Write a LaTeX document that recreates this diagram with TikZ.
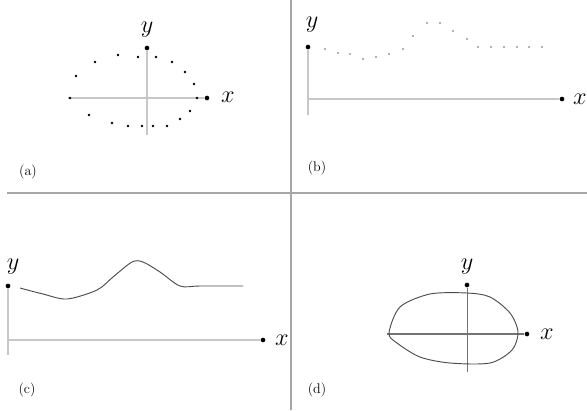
\documentclass[tikz,border=0pt]{standalone}
\usepackage{amsmath}
\usetikzlibrary{positioning}
\begin{document}
\begin{tikzpicture}[x=0.03cm,y=-0.03cm]
	 \tikzstyle{axis}=[draw,line width=1.6pt,black!22]
	 \tikzstyle{frame}=[draw,line width=1pt,black!35]
	 \tikzstyle{tip}=[circle,fill=black,minimum size=4pt,inner sep=0pt]
	 \tikzstyle{pt}=[circle,fill=black,minimum size=2.2pt,inner sep=0pt]
	 \tikzstyle{lab}=[font=\huge,inner sep=0pt]
	 \tikzstyle{tag}=[font=\large,inner sep=0pt]
	 \tikzstyle{curve}=[draw,line width=0.8pt,black!70]
	 \useasboundingbox (0,0) rectangle (587,410);

	 % dividing lines
	 \coordinate (vt) at (291,0);
	 \coordinate (vb) at (291,410);
	 \coordinate (hl) at (7,193);
	 \coordinate (hr) at (587,193);
	 \draw[frame] (vt) -- (vb);
	 \draw[frame] (hl) -- (hr);

	 % (a)
	 \coordinate (a0) at (68,98);
	 \coordinate (a1) at (147,135);
	 \node[tip] (ax) at (207,98) {};
	 \node[tip] (ay) at (147,48) {};
	 \draw[axis] (a0) -- (ax);
	 \draw[axis] (ay) -- (a1);
	 \node[lab] (axl) at (228,97) {$x$};
	 \node[lab] (ayl) at (147,30) {$y$};
	 \foreach \x/\y [count=\i] in {76/76,95/62,118/55,138/57,156/57,172/62,185/72,194/84,197/98,190/111,180/119,167/126,153/126,142/126,128/126,112/123,89/115,70/98}
	 	\node[pt] (ad\i) at (\x,\y) {};
	 \node[tag] (ta) at (28,172) {(a)};

	 % (b)
	 \coordinate (b1) at (308,115);
	 \node[tip] (bx) at (562,99) {};
	 \node[tip] (by) at (308,47) {};
	 \coordinate (b0) at (308,99);
	 \draw[axis] (b0) -- (bx);
	 \draw[axis] (by) -- (b1);
	 \node[lab] (bxl) at (580,99) {$x$};
	 \node[lab] (byl) at (312,25) {$y$};
	 \foreach \x/\y [count=\i] in {325/49,338/53,350/54,363/59,376/57,389/54,403/49,413/36,427/23,440/23,453/31,467/39,478/47,491/47,504/47,517/47,529/47,542/47}
	 	\node[pt,minimum size=1.5pt,fill=black!60] (bd\i) at (\x,\y) {};
	 \node[tag] (tb) at (317,168) {(b)};

	 % (c)
	 \coordinate (c1) at (8,355);
	 \coordinate (c0) at (8,340);
	 \node[tip] (cx) at (263,340) {};
	 \node[tip] (cy) at (8,286) {};
	 \draw[axis] (c0) -- (cx);
	 \draw[axis] (cy) -- (c1);
	 \node[lab] (cxl) at (282,340) {$x$};
	 \node[lab] (cyl) at (13,267) {$y$};
	 \draw[curve] plot[smooth] coordinates {(20,288) (43,294) (67,299) (97,290) (113,277) (132,262) (143,262) (160,272) (180,286) (200,286) (243,286)};
	 \node[tag] (tc) at (27,390) {(c)};

	 % (d)
	 \coordinate (d0) at (387,334);
	 \coordinate (d1) at (467,372);
	 \node[tip] (dx) at (527,334) {};
	 \node[tip] (dy) at (467,285) {};
	 \draw[axis,black!55,line width=1pt] (d0) -- (dx);
	 \draw[axis,black!55,line width=0.8pt] (dy) -- (d1);
	 \node[lab] (dxl) at (547,334) {$x$};
	 \node[lab] (dyl) at (467,267) {$y$};
	 \draw[curve] plot[smooth cycle] coordinates {(389,333) (400,307) (430,294) (467,293) (490,297) (510,313) (518,332) (512,350) (490,363) (450,363) (420,357) (397,343)};
	 \node[tag] (td) at (317,390) {(d)};
 \end{tikzpicture}
\end{document}
